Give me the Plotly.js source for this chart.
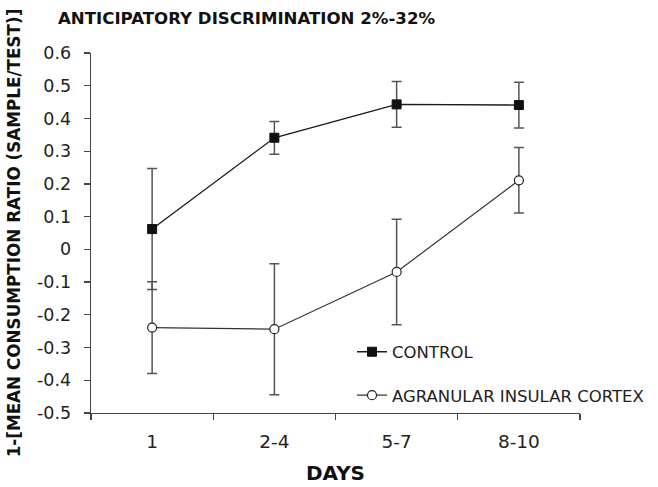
<!DOCTYPE html>
<html>
<head>
<meta charset="utf-8">
<script src="https://cdn.plot.ly/plotly-3.0.1.min.js"></script>
<style>html,body{margin:0;padding:0;background:#fff;}#chart{width:658px;height:487px;}</style>
</head>
<body>
<div id="chart"></div>
<script>
const days = ['1', '2-4', '5-7', '8-10'];
const controlMean = [0.062, 0.341, 0.443, 0.441];
const controlErr = [0.185, 0.05, 0.07, 0.07];
const aicMean = [-0.239, -0.244, -0.069, 0.211];
const aicErr = [0.14, 0.2, 0.161, 0.1];
const yTicks = [0.6, 0.5, 0.4, 0.3, 0.2, 0.1, 0, -0.1, -0.2, -0.3, -0.4, -0.5];

const FONT = 'DejaVu Sans, Verdana, sans-serif';

const traces = [
  {
    x: days, y: controlMean, name: 'CONTROL', type: 'scatter', mode: 'lines+markers',
    legendgroup: 'a',
    line: {color: '#1a1a1a', width: 1.3},
    marker: {symbol: 'square', size: 9, color: '#111', line: {color: '#111', width: 1}},
    error_y: {type: 'data', array: controlErr, visible: true, color: '#555', thickness: 1.5, width: 5}
  },
  {
    x: days, y: aicMean, name: 'AGRANULAR INSULAR CORTEX', type: 'scatter', mode: 'lines+markers',
    legendgroup: 'b',
    line: {color: '#333', width: 1.2},
    marker: {symbol: 'circle', size: 9, color: '#fff', line: {color: '#222', width: 1.2}},
    error_y: {type: 'data', array: aicErr, visible: true, color: '#555', thickness: 1.5, width: 5}
  }
];

const layout = {
  width: 658, height: 487,
  margin: {l: 91, r: 78, t: 53, b: 74, autoexpand: false},
  paper_bgcolor: '#fff', plot_bgcolor: '#fff',
  font: {family: FONT, color: '#222', size: 16},
  title: {
    text: 'ANTICIPATORY DISCRIMINATION 2%-32%',
    font: {family: FONT, size: 16.6, weight: 'bold', color: '#111'},
    xref: 'container', yref: 'container', x: 58/658, xanchor: 'left', y: 1 - 18/487, yanchor: 'middle'
  },
  xaxis: {
    type: 'category', range: [-0.5, 3.5], tickson: 'boundaries',
    showline: true, linecolor: '#444', linewidth: 1.3,
    ticks: 'outside', ticklen: 6, tickcolor: '#444', tickwidth: 1.3,
    showgrid: false, zeroline: false,
    ticklabelstandoff: 11,
    tickfont: {family: FONT, size: 18.5, color: '#222'},
    title: {text: 'DAYS', font: {family: FONT, size: 20, weight: 'bold', color: '#111'}, standoff: 15}
  },
  yaxis: {
    range: [-0.5, 0.6], tickvals: yTicks, ticktext: yTicks.map(String),
    showline: true, linecolor: '#444', linewidth: 1.3,
    ticks: 'outside', ticklen: 6, tickcolor: '#444', tickwidth: 1.3,
    showgrid: false, zeroline: false,
    ticklabelstandoff: 9,
    tickfont: {family: FONT, size: 17.5, color: '#222'},
    title: {text: '1-[MEAN CONSUMPTION RATIO (SAMPLE/TEST)]', font: {family: FONT, size: 16.8, weight: 'bold', color: '#111'}, standoff: 12}
  },
  showlegend: true,
  legend: {
    xref: 'paper', yref: 'paper',
    x: (352 - 91) / 489, y: (413 - 334.5) / 360, xanchor: 'left', yanchor: 'top',
    bgcolor: 'rgba(0,0,0,0)', borderwidth: 0,
    traceorder: 'grouped', tracegroupgap: 19,
    font: {family: FONT, size: 16.5, color: '#222'}
  }
};

Plotly.newPlot('chart', traces, layout, {displayModeBar: false, staticPlot: true});
</script>
</body>
</html>
